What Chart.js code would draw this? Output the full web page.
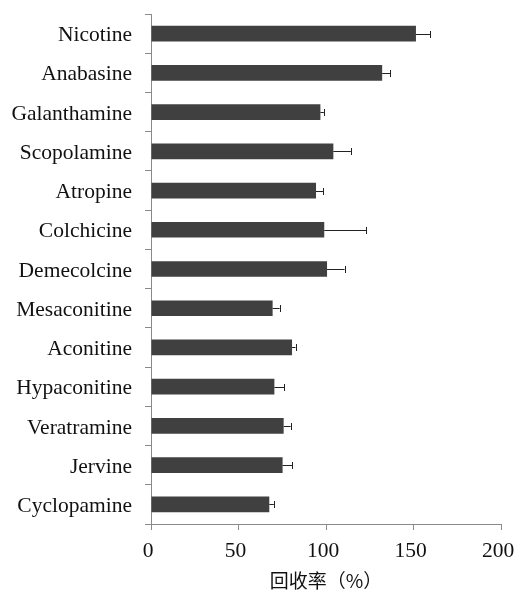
<!DOCTYPE html>
<html>
<head>
<meta charset="utf-8">
<script src="https://cdn.jsdelivr.net/npm/chart.js@4/dist/chart.umd.min.js"></script>
<style>
  html, body { margin: 0; padding: 0; background: #fff; }
  #wrap { width: 516px; height: 590px; }
</style>
</head>
<body>
<div id="wrap"><canvas id="c" width="516" height="590"></canvas></div>
<script>
// Recovery rates of the alkaloids (mean, %) and their standard deviations
const compounds = ['Nicotine', 'Anabasine', 'Galanthamine', 'Scopolamine', 'Atropine',
  'Colchicine', 'Demecolcine', 'Mesaconitine', 'Aconitine', 'Hypaconitine',
  'Veratramine', 'Jervine', 'Cyclopamine'];
const recovery = [151.4, 132.1, 96.8, 104.2, 94.3, 99.0, 100.6, 69.5, 80.6, 70.5, 75.8, 75.2, 67.6];
const recoverySD = [8.0, 4.5, 2.0, 10.0, 4.0, 24.0, 10.0, 4.0, 2.0, 5.5, 4.0, 5.5, 2.6];
const xTicks = [0, 50, 100, 150, 200];

const axisGrey = '#8a8a8a';

// Plus-side error bars drawn from the SD values through the x scale
const errorBars = {
  id: 'errorBars',
  afterDatasetsDraw(chart) {
    const { ctx } = chart;
    const xs = chart.scales.x;
    const meta = chart.getDatasetMeta(0);
    ctx.save();
    ctx.strokeStyle = '#222';
    ctx.lineWidth = 1;
    meta.data.forEach((bar, i) => {
      const x0 = xs.getPixelForValue(recovery[i]);
      const x1 = xs.getPixelForValue(recovery[i] + recoverySD[i]);
      const y = Math.round(bar.y) + 0.5;
      ctx.beginPath();
      ctx.moveTo(x0, y);
      ctx.lineTo(x1, y);
      ctx.moveTo(Math.round(x1) + 0.5, y - 3.5);
      ctx.lineTo(Math.round(x1) + 0.5, y + 3.5);
      ctx.stroke();
    });
    ctx.restore();
  }
};

new Chart(document.getElementById('c'), {
  type: 'bar',
  data: {
    labels: compounds,
    datasets: [{
      data: recovery,
      backgroundColor: '#404040',
      borderWidth: 0,
      categoryPercentage: 1,
      barPercentage: 0.4
    }]
  },
  options: {
    indexAxis: 'y',
    responsive: false,
    animation: false,
    events: [],
    layout: { padding: { top: 14, right: 15, left: 0, bottom: 0 } },
    plugins: { legend: { display: false }, tooltip: { enabled: false } },
    scales: {
      x: {
        type: 'linear',
        min: 0,
        max: 200,
        afterBuildTicks(scale) { scale.ticks = xTicks.map(v => ({ value: v })); },
        afterFit(scale) { scale.height = 66; scale.paddingLeft = 0; scale.paddingRight = 0; },
        border: { display: true, color: axisGrey, width: 1 },
        grid: { display: true, drawOnChartArea: false, drawTicks: true, tickLength: 6, color: axisGrey },
        ticks: {
          color: '#111',
          padding: 8,
          labelOffset: -3,
          maxRotation: 0,
          font: { family: 'Liberation Serif', size: 21.5 }
        },
        title: {
          display: true,
          text: '回收率（%）',
          color: '#111',
          padding: { top: 0, bottom: 0 },
          font: { family: 'Noto Sans CJK SC', size: 19, lineHeight: 1 }
        }
      },
      y: {
        afterFit(scale) { scale.width = 151; scale.paddingTop = 0; scale.paddingBottom = 0; },
        border: { display: true, color: axisGrey, width: 1 },
        grid: { display: true, offset: true, drawOnChartArea: false, drawTicks: true, tickLength: 6, color: axisGrey },
        ticks: {
          color: '#111',
          padding: 13,
          labelOffset: 2,
          autoSkip: false,
          font: { family: 'Liberation Serif', size: 21.5 }
        }
      }
    }
  },
  plugins: [errorBars]
});
</script>
</body>
</html>
